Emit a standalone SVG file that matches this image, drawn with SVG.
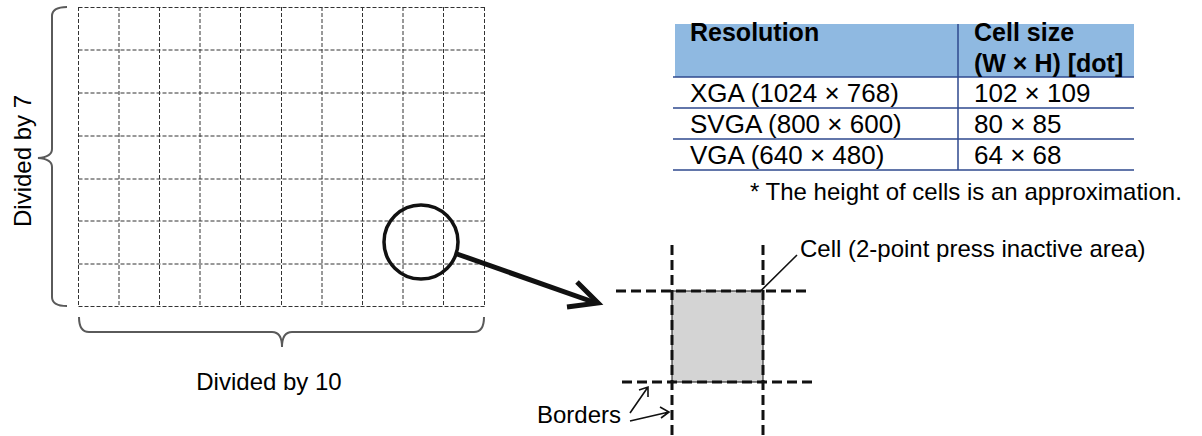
<svg xmlns="http://www.w3.org/2000/svg" width="1202" height="436" viewBox="0 0 1202 436">
<style>
text{font-family:"Liberation Sans",Arial,sans-serif;fill:#000}
.t{font-size:24px}
.tr{font-size:26px}
.tb{font-size:25px;font-weight:bold}
.g{stroke:#333;stroke-width:1;stroke-dasharray:4 2;fill:none}
.br{stroke:#5a5a5a;stroke-width:2;fill:none}
.bd{stroke:#111;stroke-width:3;stroke-dasharray:10 5;fill:none}
.tl{stroke:#2f4a8f;stroke-width:1.5}
.thin{stroke:#111;stroke-width:1.6;fill:none}
</style>
<g id="grid">
<path class="g" d="M78.5,7.5H484.5M78.5,50H484.5M78.5,93H484.5M78.5,136H484.5M78.5,179H484.5M78.5,221H484.5M78.5,264H484.5M78.5,306.5H484.5"/>
<path class="g" d="M78.5,7V307M119,7V307M159.5,7V307M200,7V307M240.5,7V307M281.5,7V307M322,7V307M362.5,7V307M403,7V307M443.5,7V307M484.5,7V307"/>
</g>
<g id="brace-left">
<path class="br" d="M67,7 Q52,7 52,16 L52,149 Q52,157 38,158 Q52,159 52,167 L52,297 Q52,306 67,306"/>
<text class="t" transform="translate(31,161) rotate(-90)" text-anchor="middle">Divided by 7</text>
</g>
<g id="brace-bottom">
<path class="br" d="M79,317 Q79,332 89,332 L272,332 Q282,332 282,347 Q282,332 292,332 L474,332 Q484,332 484,317"/>
<text class="t" x="269" y="390" text-anchor="middle">Divided by 10</text>
</g>
<g id="zoom-circle">
<circle cx="421" cy="242" r="37" fill="none" stroke="#111" stroke-width="3.5"/>
</g>
<g id="connectors">
<path d="M457,254 L596,303" stroke="#111" stroke-width="5" fill="none"/>
<path d="M577,282 L598,303 L567,307" stroke="#111" stroke-width="5" fill="none" stroke-linejoin="miter"/>
<path class="thin" d="M797,255 L720,331 M723,318 L720,331 L733,328"/>
<path class="thin" d="M630,413 L648,387 M639,390 L648,387 L648,397"/>
<path class="thin" d="M630,421 L669,412 M660,407 L669,412 L661,418"/>
</g>
<g id="cell">
<rect x="672" y="291" width="91" height="91" fill="#d4d4d4" stroke="#111" stroke-width="1"/>
<path class="bd" d="M616,291H810M622,382H814M672,245V436M763,245V436"/>
<text class="t" x="800" y="257">Cell (2-point press inactive area)</text>
<text class="t" x="621" y="423" text-anchor="end">Borders</text>
</g>
<g id="table">
<rect x="675" y="24" width="459" height="53" fill="#8fb9e1"/>
<path class="tl" d="M673,77H1134M673,108H1134M673,139H1134M673,170H1134M958,24V170"/>
<text class="tb" x="690" y="41">Resolution</text>
<text class="tb" x="974" y="41">Cell size</text>
<text class="tb" x="974" y="72">(W × H) [dot]</text>
<text class="tr" x="690" y="102">XGA (1024 × 768)</text>
<text class="tr" x="974" y="102">102 × 109</text>
<text class="tr" x="690" y="133">SVGA (800 × 600)</text>
<text class="tr" x="974" y="133">80 × 85</text>
<text class="tr" x="690" y="164">VGA (640 × 480)</text>
<text class="tr" x="974" y="164">64 × 68</text>
<text class="t" x="750" y="200">* The height of cells is an approximation.</text>
</g>
</svg>
